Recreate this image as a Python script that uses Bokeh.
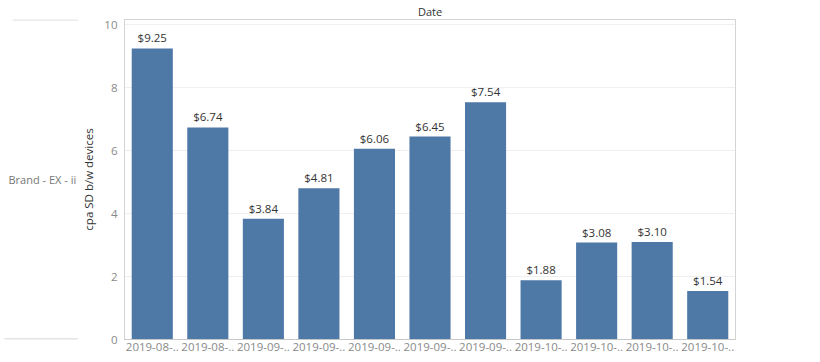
from bokeh.plotting import figure
from bokeh.layouts import row
from bokeh.models import Range1d, FixedTicker, ColumnDataSource
from bokeh.core.properties import value
from bokeh.embed import file_html
from bokeh.resources import INLINE

# ---- data ----
date_labels = ["2019-08-..", "2019-08-..", "2019-09-..", "2019-09-..", "2019-09-..",
               "2019-09-..", "2019-09-..", "2019-10-..", "2019-10-..", "2019-10-..", "2019-10-.."]
cpa_values = [9.25, 6.74, 3.84, 4.81, 6.06, 6.45, 7.54, 1.88, 3.08, 3.10, 1.54]
y_ticks = [0, 2, 4, 6, 8, 10]
row_header = "Brand - EX - ii"
col_header = "Date"
y_title = "cpa SD b/w devices"

FONT = "Open Sans"
BAR = "#4e79a7"
H = 358
TOP, BOTTOM = 18, 339   # frame edges in page pixels

xs = list(range(len(cpa_values)))
src = ColumnDataSource(dict(x=xs, y=cpa_values, lab=["$%.2f" % v for v in cpa_values]))

# ---- main plot ----
p = figure(width=736, height=H, output_backend="svg", toolbar_location=None,
           x_range=Range1d(-0.5, len(cpa_values) - 0.5), y_range=Range1d(0, 10.17),
           min_border_left=41, min_border_right=79, min_border_top=TOP,
           min_border_bottom=H - BOTTOM,
           title=col_header, title_location="above")
p.title.align = "center"
p.title.text_font = FONT
p.title.text_font_size = "11px"
p.title.text_font_style = "normal"
p.title.text_color = "#333333"
p.title.standoff = 2
p.background_fill_color = "white"
p.border_fill_color = "white"
p.outline_line_color = "#d4d4d4"

p.vbar(x="x", top="y", width=0.74, source=src, fill_color=BAR, line_color=None)
p.text(x="x", y="y", text="lab", source=src, text_align="center", text_baseline="bottom",
       y_offset=-3, text_font=value(FONT), text_font_size="11.5px", text_color="#333333")

p.xgrid.visible = False
p.ygrid.ticker = FixedTicker(ticks=y_ticks)
p.ygrid.grid_line_color = "#efefef"

p.yaxis.ticker = FixedTicker(ticks=y_ticks)
p.yaxis.axis_label = y_title
p.yaxis.axis_label_text_font = FONT
p.yaxis.axis_label_text_font_size = "11.5px"
p.yaxis.axis_label_text_font_style = "normal"
p.yaxis.axis_label_text_color = "#333333"
p.yaxis.axis_label_standoff = 5
p.yaxis.major_label_text_font = FONT
p.yaxis.major_label_text_font_size = "11.5px"
p.yaxis.major_label_text_color = "#8a8a8a"
p.yaxis.major_label_standoff = 7
p.yaxis.major_tick_out = 0
p.yaxis.major_tick_in = 0
p.yaxis.minor_tick_out = 0
p.yaxis.minor_tick_in = 0
p.yaxis.major_tick_line_color = None
p.yaxis.minor_tick_line_color = None
p.yaxis.axis_line_color = "#d4d4d4"

p.xaxis.ticker = FixedTicker(ticks=xs)
p.xaxis.major_label_overrides = {i: lab for i, lab in zip(xs, date_labels)}
p.xaxis.major_label_text_font = FONT
p.xaxis.major_label_text_font_size = "11.5px"
p.xaxis.major_label_text_color = "#8a8a8a"
p.xaxis.major_label_standoff = 3
p.xaxis.major_tick_out = 0
p.xaxis.major_tick_in = 0
p.xaxis.minor_tick_out = 0
p.xaxis.minor_tick_in = 0
p.xaxis.major_tick_line_color = None
p.xaxis.minor_tick_line_color = None
p.xaxis.axis_line_color = "#c8c8c8"

# ---- row header panel (its frame is aligned with the main frame by row()) ----
LW = 78
h = figure(width=LW, height=H, output_backend="svg", toolbar_location=None,
           x_range=Range1d(0, LW), y_range=Range1d(BOTTOM, TOP),
           min_border_left=0, min_border_right=0, min_border_top=TOP,
           min_border_bottom=H - BOTTOM)
h.axis.visible = False
h.grid.visible = False
h.outline_line_color = None
h.border_fill_color = "white"
h.segment(x0=[12, 4], y0=[TOP + 0.5, BOTTOM - 0.5], x1=[LW, LW], y1=[TOP + 0.5, BOTTOM - 0.5],
          line_color=["#d4d4d4", "#c8c8c8"], line_width=1)
h.text(x=[8], y=[179], text=[row_header], text_align="left", text_baseline="middle",
       text_font=value(FONT), text_font_size="11px", text_color="#777777")

layout = row(h, p, spacing=0)
open("out.html", "w").write(file_html(layout, INLINE))
